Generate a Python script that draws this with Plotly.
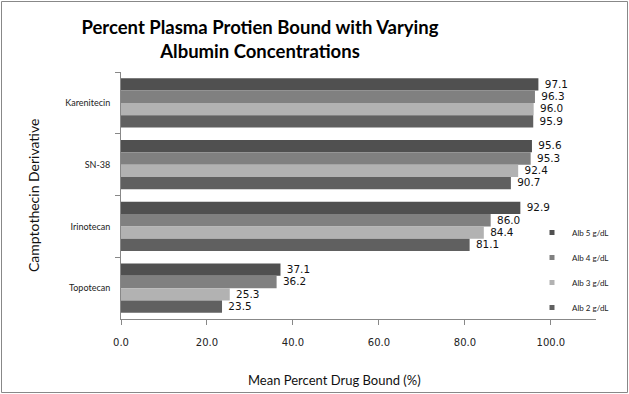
import plotly.graph_objects as go

categories = ["Karenitecin", "SN-38", "Irinotecan", "Topotecan"]
series_names = ["Alb 5 g/dL", "Alb 4 g/dL", "Alb 3 g/dL", "Alb 2 g/dL"]
alb5 = [97.1, 95.6, 92.9, 37.1]
alb4 = [96.3, 95.3, 86.0, 36.2]
alb3 = [96.0, 92.4, 84.4, 25.3]
alb2 = [95.9, 90.7, 81.1, 23.5]
x_tick_vals = [0, 20, 40, 60, 80, 100]
x_tick_text = ["0.0", "20.0", "40.0", "60.0", "80.0", "100.0"]

series_values = [alb5, alb4, alb3, alb2]
colors = ["#505050", "#808080", "#b2b2b2", "#606060"]

W, H = 629, 394
L, R, T, B = 121, 33, 72, 75

fig = go.Figure()
for name, vals, col in zip(series_names, series_values, colors):
    fig.add_trace(go.Bar(
        y=categories, x=vals, orientation="h", name=name,
        marker=dict(color=col, line=dict(width=0)),
        text=["\u00a0" + f"{v:.1f}" for v in vals], textposition="outside",
        textfont=dict(family="DejaVu Sans", size=11, color="#111"),
        cliponaxis=False, showlegend=False,
    ))
# legend entries (small square markers)
for i, (name, col) in enumerate(zip(series_names, colors)):
    fig.add_trace(go.Scatter(
        x=[None], y=[None], mode="markers", name=name,
        marker=dict(symbol="square", size=5, color=col),
        legendgroup=f"g{i}", showlegend=True,
    ))

pw = W - L - R
ph = H - T - B

fig.update_layout(
    width=W, height=H,
    margin=dict(l=L, r=R, t=T, b=B, autoexpand=False),
    paper_bgcolor="white", plot_bgcolor="white",
    barmode="group", bargap=0.2, bargroupgap=0,
    title=dict(
        text="<b>Percent Plasma Protien Bound with Varying<br>Albumin Concentrations</b>",
        x=260 / W, xref="container", xanchor="center",
        y=1 - 34 / H, yref="container", yanchor="middle",
        font=dict(family="Lato", size=18.5, color="black"),
    ),
    xaxis=dict(
        range=[0, 110.5], tickvals=x_tick_vals, ticktext=x_tick_text,
        showgrid=False, zeroline=False, showline=True, linecolor="#888", linewidth=1,
        ticks="outside", ticklen=5, tickcolor="#888", ticklabelstandoff=9,
        tickfont=dict(family="DejaVu Sans", size=10, color="#222"),
    ),
    yaxis=dict(
        autorange="reversed", showgrid=False, zeroline=False,
        showline=True, linecolor="#888", linewidth=1,
        ticks="outside", ticklen=5, tickcolor="#888", tickson="boundaries",
        ticklabelstandoff=8,
        tickfont=dict(family="Lato", size=9, color="#222"),
    ),
    legend=dict(
        x=(532 - L) / pw, xanchor="left", y=(H - B - 218) / ph, yanchor="top",
        font=dict(family="Lato", size=8, color="#222"),
        bgcolor="rgba(0,0,0,0)", tracegroupgap=6, itemwidth=30,
    ),
    annotations=[
        dict(text="Camptothecin Derivative", textangle=-90,
             x=(33 - L) / pw, y=(H - B - 196) / ph, xref="paper", yref="paper",
             xanchor="center", yanchor="middle", showarrow=False,
             font=dict(family="Lato", size=14, color="#111")),
        dict(text="Mean Percent Drug Bound (%)",
             x=(334 - L) / pw, y=(H - B - 380) / ph, xref="paper", yref="paper",
             xanchor="center", yanchor="middle", showarrow=False,
             font=dict(family="Lato", size=13, color="#111")),
    ],
    shapes=[dict(type="rect", xref="paper", yref="paper",
                 x0=-(L - 1.5) / pw, x1=1 + (R - 1.5) / pw,
                 y0=-(B - 1.5) / ph, y1=1 + (T - 1.5) / ph,
                 line=dict(color="#888", width=1))],
)

fig.write_html("out.html", config={"displayModeBar": False},
               post_script="document.body.style.margin='0';")
